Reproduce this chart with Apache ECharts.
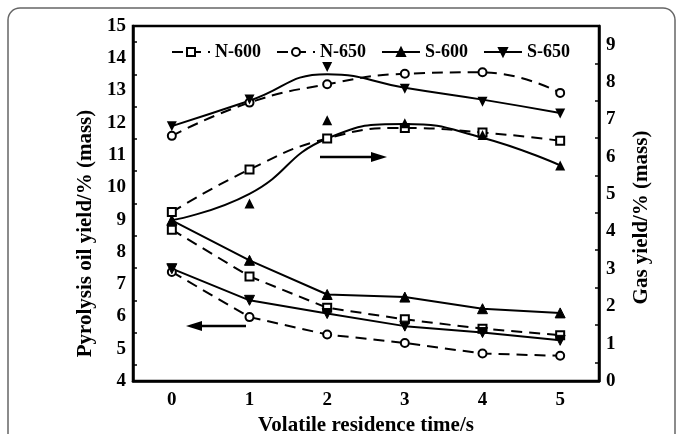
<!DOCTYPE html>
<html><head><meta charset="utf-8">
<script src="https://cdn.jsdelivr.net/npm/echarts@6/dist/echarts.min.js"></script>
<style>html,body{margin:0;padding:0;background:#fff}#c{width:683px;height:434px}</style>
</head><body><div id="c"></div>
<script>
// Residence time categories (s)
var times = ['0', '1', '2', '3', '4', '5'];
// Pyrolysis oil yield (% mass), left axis
var oilN600 = [8.69, 7.24, 6.27, 5.91, 5.62, 5.42];
var oilN650 = [7.38, 5.98, 5.44, 5.18, 4.85, 4.78];
var oilS600 = [8.98, 7.74, 6.68, 6.60, 6.24, 6.11];
var oilS650 = [7.48, 6.50, 6.09, 5.70, 5.50, 5.26];
// Gas yield (% mass), right axis
var gasN600 = [4.52, 5.66, 6.49, 6.77, 6.65, 6.43];
var gasN650 = [6.56, 7.45, 7.94, 8.22, 8.26, 7.71];
var gasS600 = [4.30, 4.75, 6.98, 6.90, 6.58, 5.77];
var gasS650 = [6.82, 7.53, 8.40, 7.82, 7.47, 7.16];
// Fitted gas curves of the S series at each time
var gasS600Fit = [4.30, 5.01, 6.49, 6.88, 6.51, 5.77];
var gasS650Fit = [6.82, 7.50, 8.21, 7.85, 7.53, 7.17];
var legendNames = ['N-600', 'N-650', 'S-600', 'S-650'];

var FONT = '"Liberation Serif","Times New Roman",serif';
var chart = echarts.init(document.getElementById('c'));

function lineSeries(name, data, yIdx, dashed, symbol, rotate, smooth, showSym) {
  return {
    name: name, type: 'line', data: data, yAxisIndex: yIdx, smooth: smooth ? 0.5 : false,
    symbol: symbol, symbolSize: symbol.indexOf('empty') === 0 ? 8 : 10, symbolRotate: rotate || 0,
    showSymbol: showSym, animation: false,
    lineStyle: { color: '#000', width: 2, type: dashed ? [11, 7] : 'solid' },
    itemStyle: { color: '#000', borderColor: '#000', borderWidth: 1, opacity: 1 }
  };
}
function scatterSeries(name, data, yIdx, rotate) {
  return {
    name: name, type: 'scatter', data: data, yAxisIndex: yIdx, symbol: 'triangle',
    symbolSize: 10, symbolRotate: rotate || 0, animation: false,
    itemStyle: { color: '#000', opacity: 1 }, z: 3
  };
}

var tickStyle = { color: '#000', width: 1.5 };
chart.setOption({
  backgroundColor: '#fff',
  grid: { left: 133, right: 84, top: 26, bottom: 53, show: true, borderColor: '#000', borderWidth: 2.5,
          containLabel: false, outerBoundsMode: 'none' },
  legend: {
    data: legendNames, left: 166, top: 38, itemWidth: 38, itemHeight: 10, itemGap: 15,
    textStyle: { fontFamily: FONT, fontWeight: 'bold', fontSize: 18, color: '#000' }
  },
  xAxis: {
    type: 'category', data: times, boundaryGap: true,
    name: 'Volatile residence time/s', nameLocation: 'middle', nameGap: 31,
    nameTextStyle: { fontFamily: FONT, fontWeight: 'bold', fontSize: 21, color: '#000' },
    axisLine: { lineStyle: { color: '#000', width: 2.5 } },
    axisTick: { inside: true, alignWithLabel: true, length: 6, lineStyle: tickStyle },
    axisLabel: { fontFamily: FONT, fontWeight: 'bold', fontSize: 19, color: '#000', margin: 10 },
    splitLine: { show: false }
  },
  yAxis: [{
    type: 'value', min: 4, max: 15, interval: 1, position: 'left',
    name: 'Pyrolysis oil yield/% (mass)', nameLocation: 'middle', nameGap: 35,
    nameTextStyle: { fontFamily: FONT, fontWeight: 'bold', fontSize: 21, color: '#000', padding: [0, 60, 0, 0] },
    axisLine: { show: true, lineStyle: { color: '#000', width: 2.5 } },
    axisTick: { inside: true, length: 8, lineStyle: tickStyle },
    minorTick: { show: true, splitNumber: 2, length: 4, lineStyle: tickStyle },
    axisLabel: { fontFamily: FONT, fontWeight: 'bold', fontSize: 19, color: '#000', margin: 7 },
    splitLine: { show: false }
  }, {
    type: 'value', min: 0, max: 9.5, interval: 1, position: 'right',
    name: 'Gas yield/% (mass)', nameLocation: 'middle', nameGap: 32, nameRotate: 90,
    nameTextStyle: { fontFamily: FONT, fontWeight: 'bold', fontSize: 21, color: '#000', padding: [0, 28, 0, 0] },
    axisLine: { show: true, lineStyle: { color: '#000', width: 2.5 } },
    axisTick: { inside: true, length: 8, lineStyle: tickStyle },
    minorTick: { show: true, splitNumber: 2, length: 4, lineStyle: tickStyle },
    axisLabel: { fontFamily: FONT, fontWeight: 'bold', fontSize: 19, color: '#000', margin: 7, showMaxLabel: false },
    splitLine: { show: false }
  }],
  series: [
    lineSeries('N-600', oilN600, 0, true, 'emptyRect', 0, false, true),
    lineSeries('N-650', oilN650, 0, true, 'emptyCircle', 0, false, true),
    lineSeries('S-600', oilS600, 0, false, 'triangle', 0, false, true),
    lineSeries('S-650', oilS650, 0, false, 'triangle', 180, false, true),
    lineSeries('N-600', gasN600, 1, true, 'emptyRect', 0, true, true),
    lineSeries('N-650', gasN650, 1, true, 'emptyCircle', 0, true, true),
    lineSeries('S-600', gasS600Fit, 1, false, 'none', 0, true, false),
    lineSeries('S-650', gasS650Fit, 1, false, 'none', 0, true, false),
    scatterSeries('S-600', gasS600, 1, 0),
    scatterSeries('S-650', gasS650, 1, 180)
  ],
  graphic: [
    { type: 'rect', shape: { x: 8, y: 8, width: 667, height: 460, r: 12 }, style: { fill: 'none', stroke: '#666', lineWidth: 1.5 }, silent: true },
    { type: 'line', shape: { x1: 320, y1: 157, x2: 372, y2: 157 }, style: { stroke: '#000', lineWidth: 2.5 } },
    { type: 'polygon', shape: { points: [[387, 157], [371, 152], [371, 162]] }, style: { fill: '#000' } },
    { type: 'line', shape: { x1: 201, y1: 326, x2: 246, y2: 326 }, style: { stroke: '#000', lineWidth: 2.5 } },
    { type: 'polygon', shape: { points: [[186, 326], [202, 321], [202, 331]] }, style: { fill: '#000' } }
  ]
});
</script></body></html>
